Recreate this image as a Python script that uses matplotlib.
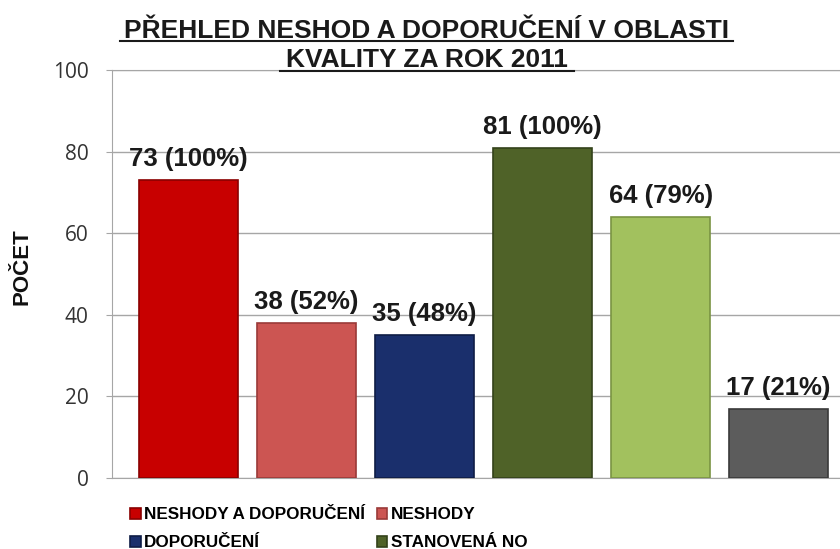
import matplotlib.pyplot as plt

# data
categories = ['NESHODY A DOPORUČENÍ', 'NESHODY', 'DOPORUČENÍ',
              'STANOVENÁ NO', 'SPLNĚNÁ NO', 'NESPLNĚNÁ NO']
values = [73, 38, 35, 81, 64, 17]
percents = [100, 52, 48, 100, 79, 21]
colors = ['#C80000', '#CC5552', '#1A2F6C', '#4F6228', '#A2C15E', '#5C5C5C']
edges = ['#8A0000', '#9A3A38', '#0E1C45', '#33421A', '#7A9443', '#3A3A3A']

fig = plt.figure(figsize=(8.4, 5.49), dpi=100)
ax = fig.add_axes([112 / 840, 1 - 478 / 549, 1 - 112 / 840, (478 - 70) / 549])

x = list(range(len(values)))
bars = ax.bar(x, values, width=0.84, color=colors, edgecolor=edges, linewidth=1.2,
              zorder=3)

for xi, v, p in zip(x, values, percents):
    ax.text(xi, v + 3.4, f'{v} ({p}%)', ha='center', va='baseline',
            fontsize=18.5, fontweight='bold', family='Liberation Sans', color='#1a1a1a', zorder=4)

ax.set_ylim(0, 100)
ax.set_xlim(-0.65, 5.52)
ax.set_yticks(range(0, 101, 20))
ax.set_xticks([])
ax.yaxis.grid(True, color='#A6A6A6', linewidth=1)
ax.set_axisbelow(True)
for s in ['left', 'top', 'bottom']:
    ax.spines[s].set_color('#A6A6A6')
ax.spines['right'].set_visible(False)
ax.tick_params(axis='y', colors='#A6A6A6', length=4, labelcolor='#333333', labelsize=15, pad=13)
for lbl in ax.get_yticklabels():
    lbl.set_family('Open Sans')

fig.text(22 / 840, 1 - 267 / 549, 'POČET', rotation=90, ha='center', va='center',
         fontsize=16, fontweight='bold', family='Liberation Sans', color='#111111')

# two-line underlined title
fig.text(427 / 840, 1 - 38 / 549, 'PŘEHLED NESHOD A DOPORUČENÍ V OBLASTI', ha='center', va='baseline',
         fontsize=19, fontweight='bold', family='Liberation Sans', color='#1a1a1a')
fig.text(427 / 840, 1 - 67 / 549, 'KVALITY ZA ROK 2011', ha='center', va='baseline',
         fontsize=19, fontweight='bold', family='Liberation Sans', color='#1a1a1a')
fig.add_artist(plt.Line2D([120 / 840, 733 / 840], [1 - 41 / 549] * 2, color='#1a1a1a', lw=1.5))
fig.add_artist(plt.Line2D([280 / 840, 574 / 840], [1 - 70.5 / 549] * 2, color='#1a1a1a', lw=1.5))

# legend: only the first four entries fit inside the picture
order = [0, 2, 1, 3]
leg = fig.legend(handles=[bars[i] for i in order], labels=[categories[i] for i in order],
                 ncol=2, loc='upper left',
                 bbox_to_anchor=(115 / 840, 1 - 492 / 549), frameon=False,
                 prop={'family': 'Liberation Sans', 'size': 12.3, 'weight': 'bold'},
                 handlelength=0.6, handleheight=0.6, handletextpad=0.2,
                 columnspacing=0.7, labelspacing=0.75)

plt.savefig('out.png', dpi=100)
